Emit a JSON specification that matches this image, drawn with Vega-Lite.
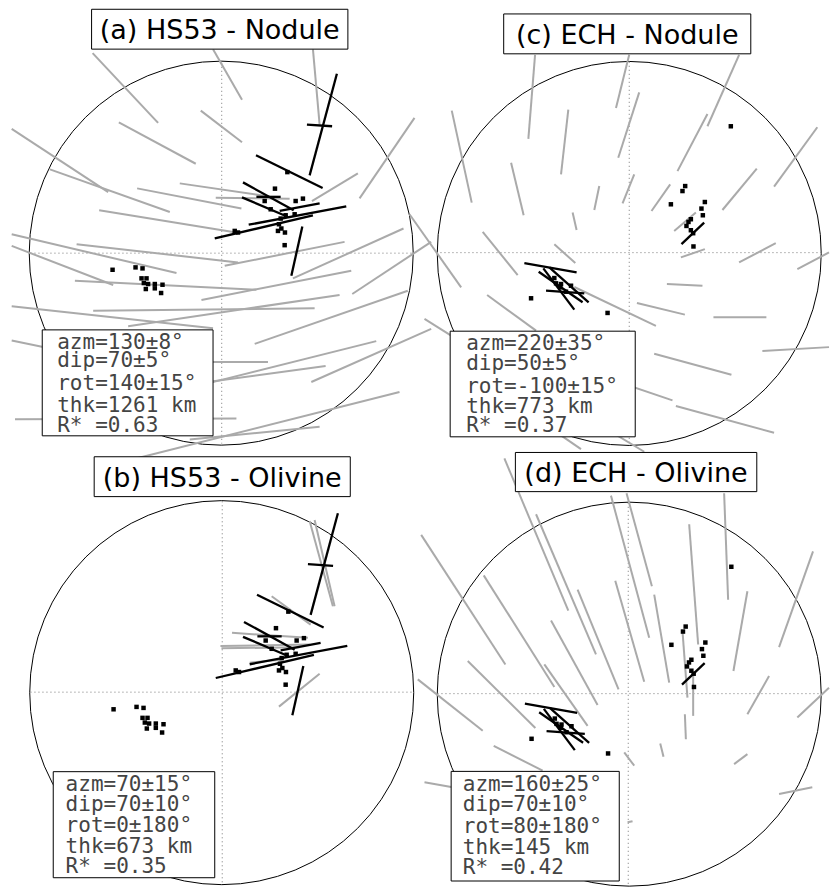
{
"$schema": "https://vega.github.io/schema/vega-lite/v6.json",
"width": 830, "height": 888,
"autosize": {"type": "fit", "contains": "padding"},
"padding": 0,
"background": "white",
"config": {"view": {"stroke": null}},
"datasets": {
"circ": [{"x":221.5,"y":254},{"x":630,"y":254.3},{"x":222,"y":695},{"x":630,"y":696.5}],
"cross": [
{"x":222,"y":63,"x2":222,"y2":445},{"x":30.5,"y":254,"x2":412.5,"y2":254},
{"x":630,"y":62,"x2":630,"y2":446.5},{"x":437,"y":253.5,"x2":822.5,"y2":253.5},
{"x":222.5,"y":503,"x2":222.5,"y2":887},{"x":30.5,"y":694.5,"x2":413.5,"y2":694.5},
{"x":629,"y":504.5,"x2":629,"y2":888},{"x":438,"y":696,"x2":822,"y2":696}],
"gray": [
{"x":92.7,"y":53.3,"x2":158.3,"y2":123.3},{"x":213.3,"y":49.3,"x2":242.3,"y2":100},{"x":313.3,"y":49.3,"x2":320,"y2":125},
{"x":201,"y":111,"x2":242.3,"y2":142.7},{"x":119,"y":122.7,"x2":196,"y2":164.3},{"x":11.7,"y":129.3,"x2":108.3,"y2":192.7},
{"x":50,"y":170,"x2":170,"y2":212.7},{"x":137.3,"y":189,"x2":241.7,"y2":209.3},{"x":180,"y":184,"x2":266.7,"y2":196.7},
{"x":99.3,"y":211,"x2":233.3,"y2":232.7},{"x":216,"y":198.3,"x2":290,"y2":199.3},{"x":312.3,"y":201.7,"x2":358.3,"y2":174},
{"x":360,"y":199,"x2":415,"y2":118.3},{"x":11.7,"y":235,"x2":176.7,"y2":274},{"x":11.7,"y":246.7,"x2":113.3,"y2":286},
{"x":76.7,"y":245,"x2":238.3,"y2":263.3},{"x":225,"y":266.7,"x2":345,"y2":242.7},{"x":293.3,"y":279.3,"x2":404,"y2":229.3},
{"x":75,"y":281.7,"x2":256.7,"y2":290.7},{"x":201.7,"y":301,"x2":351.7,"y2":271.7},{"x":352.7,"y":295,"x2":431.7,"y2":242.7},
{"x":11.7,"y":307.3,"x2":213.3,"y2":329.3},{"x":93.3,"y":311.7,"x2":315,"y2":309.3},{"x":128.3,"y":327.3,"x2":340,"y2":296},
{"x":255,"y":345,"x2":408.3,"y2":291.7},{"x":11.7,"y":341.7,"x2":100,"y2":360},{"x":150,"y":363.3,"x2":268.3,"y2":363.3},
{"x":180,"y":391.7,"x2":376.7,"y2":342.3},{"x":180,"y":387,"x2":326,"y2":367.3},{"x":311.7,"y":383.3,"x2":431.7,"y2":330},
{"x":15,"y":420.7,"x2":236.7,"y2":420},{"x":190,"y":441,"x2":320,"y2":428.3},{"x":123.3,"y":463.3,"x2":400,"y2":393.3},
{"x":310,"y":522.7,"x2":333.3,"y2":608.3},{"x":315,"y":521.7,"x2":335,"y2":608.3},{"x":272,"y":598.3,"x2":311,"y2":626.7},
{"x":232.3,"y":635,"x2":308.3,"y2":640},{"x":220.7,"y":648.3,"x2":310,"y2":646.7},{"x":221.7,"y":650.5,"x2":300,"y2":649.5},
{"x":250,"y":665,"x2":283,"y2":661.7},{"x":279.3,"y":709,"x2":320,"y2":676},
{"x":535.7,"y":55,"x2":529,"y2":139.3},{"x":630,"y":55,"x2":616.7,"y2":108.3},{"x":740,"y":55,"x2":708.3,"y2":126.7},
{"x":452.3,"y":111,"x2":472.3,"y2":203.3},{"x":569,"y":110,"x2":561.7,"y2":175},{"x":640,"y":92.7,"x2":619,"y2":158.3},
{"x":708.3,"y":114.3,"x2":678.3,"y2":171.7},{"x":511.7,"y":163.3,"x2":524.3,"y2":216},{"x":600,"y":186.7,"x2":595,"y2":210.7},
{"x":635,"y":175,"x2":623.3,"y2":204},{"x":671,"y":185,"x2":652.3,"y2":211.7},{"x":757.7,"y":169.3,"x2":723.3,"y2":210.7},
{"x":818.3,"y":127.7,"x2":775,"y2":187.3},{"x":573.3,"y":213.3,"x2":577.3,"y2":230.7},{"x":410,"y":215,"x2":461.7,"y2":288.3},
{"x":483.3,"y":232.7,"x2":518.3,"y2":276},{"x":555,"y":245,"x2":576,"y2":264},{"x":487.7,"y":296,"x2":536.7,"y2":331.7},
{"x":425,"y":320,"x2":451.7,"y2":336.7},{"x":575,"y":288,"x2":656.7,"y2":327},{"x":637.7,"y":304,"x2":685.7,"y2":315.7},
{"x":667.7,"y":285,"x2":703.3,"y2":286.7},{"x":714.3,"y":318.3,"x2":767.3,"y2":318.3},{"x":681.7,"y":258.3,"x2":705.7,"y2":250},
{"x":675,"y":231.7,"x2":696.7,"y2":213.3},{"x":740,"y":263.3,"x2":776.7,"y2":244},{"x":798.3,"y":270,"x2":830,"y2":253.3},
{"x":763.3,"y":352.3,"x2":830,"y2":348.3},{"x":655,"y":355,"x2":732.3,"y2":376},{"x":580,"y":370,"x2":673.3,"y2":401.7},
{"x":676.7,"y":407.3,"x2":775,"y2":434.3},{"x":530,"y":415,"x2":581.7,"y2":450.7},{"x":590,"y":420,"x2":645,"y2":453.3},
{"x":505,"y":460,"x2":569,"y2":612.7},{"x":536.7,"y":516,"x2":596.7,"y2":656.7},{"x":611.7,"y":497.3,"x2":650,"y2":640},
{"x":627.3,"y":495,"x2":652.7,"y2":588.3},{"x":725,"y":495,"x2":729,"y2":601.7},{"x":690,"y":526,"x2":699,"y2":646.7},
{"x":421.7,"y":536.7,"x2":506,"y2":666.7},{"x":484.3,"y":577.3,"x2":555,"y2":689.3},{"x":578.3,"y":591.7,"x2":619.3,"y2":691.7},
{"x":551.7,"y":622.7,"x2":598.3,"y2":707.3},{"x":545,"y":666.7,"x2":588.3,"y2":728.3},{"x":468.3,"y":663.3,"x2":536,"y2":730.5},
{"x":418.3,"y":681.7,"x2":483.3,"y2":733.3},{"x":494.3,"y":748.3,"x2":543.3,"y2":773.3},{"x":425,"y":785,"x2":470,"y2":793},
{"x":616,"y":582.7,"x2":645,"y2":684},{"x":655,"y":596.7,"x2":670,"y2":685},{"x":748.3,"y":593.3,"x2":734.3,"y2":673.3},
{"x":814,"y":553.3,"x2":780,"y2":649.3},{"x":683.3,"y":633.3,"x2":688.3,"y2":700},{"x":694,"y":678.3,"x2":694,"y2":718.3},
{"x":685.7,"y":716.7,"x2":686.7,"y2":741.7},{"x":661,"y":746,"x2":664.3,"y2":759.3},{"x":625,"y":755,"x2":635,"y2":768.3},
{"x":748.3,"y":756.7,"x2":735,"y2":766.7},{"x":770,"y":678.3,"x2":748.3,"y2":716.7},{"x":830,"y":690,"x2":798.3,"y2":720},
{"x":813.3,"y":790,"x2":780,"y2":796.7},{"x":628.3,"y":825,"x2":633.3,"y2":824}],
"black": [
{"x":337.3,"y":74,"x2":310,"y2":176},{"x":307.3,"y":125,"x2":332.5,"y2":126.7},{"x":256.3,"y":155.8,"x2":323,"y2":188.7},
{"x":243.3,"y":183,"x2":294,"y2":211},{"x":242.3,"y":198,"x2":288,"y2":217.5},{"x":256.7,"y":197.5,"x2":281,"y2":197.5},
{"x":280,"y":211.5,"x2":320,"y2":204},{"x":249,"y":225.5,"x2":346.7,"y2":207},{"x":215,"y":239.3,"x2":313.3,"y2":216},
{"x":302.7,"y":227.3,"x2":291.7,"y2":276.7},
{"x":338.3,"y":515,"x2":311,"y2":617},{"x":308.3,"y":566,"x2":333.5,"y2":567.7},{"x":257.3,"y":596.8,"x2":324,"y2":629.7},
{"x":244.3,"y":624,"x2":295,"y2":652},{"x":243.3,"y":639,"x2":289,"y2":658.5},{"x":257.7,"y":638.5,"x2":282,"y2":638.5},
{"x":281,"y":652.5,"x2":321,"y2":645},{"x":250,"y":666.5,"x2":347.7,"y2":648},{"x":216,"y":680.3,"x2":314.3,"y2":657},
{"x":303.7,"y":668.3,"x2":292.7,"y2":717.7},
{"x":682.3,"y":245,"x2":705,"y2":223.3},{"x":525,"y":264,"x2":577.3,"y2":273.3},{"x":550,"y":268.3,"x2":589.3,"y2":303.3},
{"x":539.3,"y":272.7,"x2":583.3,"y2":303.3},{"x":544,"y":269.3,"x2":575,"y2":310.7},{"x":546.7,"y":291.7,"x2":585,"y2":294.3},
{"x":682.8,"y":687,"x2":705.5,"y2":665.3},{"x":525.5,"y":706,"x2":577.8,"y2":715.3},{"x":550.5,"y":710.3,"x2":589.8,"y2":745.3},
{"x":539.8,"y":714.7,"x2":583.8,"y2":745.3},{"x":544.5,"y":711.3,"x2":575.5,"y2":752.7},{"x":547.2,"y":733.7,"x2":585.5,"y2":736.3}],
"pts": [
{"x":275.3,"y":189.3},{"x":287.7,"y":172.7},{"x":265,"y":201.7},{"x":296,"y":201.7},{"x":303.3,"y":199.3},{"x":271,"y":210},
{"x":286,"y":216},{"x":295,"y":215},{"x":281,"y":219.3},{"x":279.3,"y":225},{"x":281.7,"y":229.3},{"x":278.3,"y":231.7},
{"x":285.3,"y":233.3},{"x":285,"y":246},{"x":235,"y":231.7},{"x":238.3,"y":233.3},
{"x":112.7,"y":270.7},{"x":135.7,"y":268.3},{"x":142.7,"y":269.3},{"x":141.7,"y":279.3},{"x":146.7,"y":279.3},{"x":144,"y":284},
{"x":148.3,"y":285},{"x":155,"y":285},{"x":162.7,"y":285.7},{"x":146,"y":290},{"x":155,"y":289.3},{"x":161.3,"y":294},
{"x":276.3,"y":630.3},{"x":288.7,"y":613.7},{"x":266,"y":642.7},{"x":297,"y":642.7},{"x":304.3,"y":640.3},{"x":272,"y":651},
{"x":287,"y":657},{"x":296,"y":656},{"x":282,"y":660.3},{"x":280.3,"y":666},{"x":282.7,"y":670.3},{"x":279.3,"y":672.7},
{"x":286.3,"y":674.3},{"x":286,"y":687},{"x":236,"y":672.7},{"x":239.3,"y":674.3},
{"x":113.7,"y":711.7},{"x":136.7,"y":709.3},{"x":143.7,"y":710.3},{"x":142.7,"y":720.3},{"x":147.7,"y":720.3},{"x":145,"y":725},
{"x":149.3,"y":726},{"x":156,"y":726},{"x":163.7,"y":726.7},{"x":147,"y":731},{"x":156,"y":730.3},{"x":162.3,"y":735},
{"x":731.7,"y":126.7},{"x":686,"y":186.7},{"x":683.3,"y":191.7},{"x":671.7,"y":205},{"x":705.7,"y":202.7},{"x":702.3,"y":209.3},
{"x":703.7,"y":216},{"x":691.7,"y":220},{"x":689.3,"y":222.7},{"x":687.3,"y":226.7},{"x":691.7,"y":231},{"x":694,"y":234},
{"x":694.3,"y":247.3},{"x":608.3,"y":314},{"x":531.7,"y":299.3},{"x":555,"y":279},{"x":556.7,"y":284.3},{"x":561.7,"y":285},
{"x":561,"y":288.3},{"x":571.7,"y":286.7},{"x":566.7,"y":292.7},
{"x":732.2,"y":568.7},{"x":686.5,"y":628.7},{"x":683.8,"y":633.7},{"x":672.2,"y":647},{"x":706.2,"y":644.7},{"x":702.8,"y":651.3},
{"x":704.2,"y":658},{"x":692.2,"y":662},{"x":689.8,"y":664.7},{"x":687.8,"y":668.7},{"x":692.2,"y":673},{"x":694.5,"y":676},
{"x":694.8,"y":689.3},{"x":608.8,"y":756},{"x":532.2,"y":741.3},{"x":555.5,"y":721},{"x":557.2,"y":726.3},{"x":562.2,"y":727},
{"x":561.5,"y":730.3},{"x":572.2,"y":728.7},{"x":567.2,"y":734.7}],
"boxes": [
{"x":42.3,"y":331,"x2":213.3,"y2":437.3},{"x":450.7,"y":332.3,"x2":636,"y2":438.3},
{"x":53.3,"y":774.3,"x2":215,"y2":880.7},{"x":451.7,"y":774,"x2":620,"y2":884},
{"x":91.7,"y":9.3,"x2":348.3,"y2":49.3},{"x":504.3,"y":14,"x2":751.7,"y2":54},
{"x":94.3,"y":458.3,"x2":350.7,"y2":498.3},{"x":516,"y":454,"x2":757.7,"y2":493.3}],
"titles": [
{"x":220,"y":39.5,"t":"(a) HS53 - Nodule"},{"x":628,"y":44.5,"t":"(c) ECH - Nodule"},
{"x":222.5,"y":488.5,"t":"(b) HS53 - Olivine"},{"x":636.8,"y":483.5,"t":"(d) ECH - Olivine"}],
"labels": [
{"x":57.3,"y":350,"t":"azm=130±8°"},{"x":57.3,"y":368,"t":"dip=70±5°"},{"x":57.3,"y":391,"t":"rot=140±15°"},{"x":57.3,"y":413,"t":"thk=1261 km"},{"x":57.3,"y":433.3,"t":"R* =0.63"},
{"x":466.7,"y":351.5,"t":"azm=220±35°"},{"x":466.7,"y":371.5,"t":"dip=50±5°"},{"x":466.7,"y":394,"t":"rot=-100±15°"},{"x":466.7,"y":414,"t":"thk=773 km"},{"x":466.7,"y":433.5,"t":"R* =0.37"},
{"x":65.7,"y":793.5,"t":"azm=70±15°"},{"x":65.7,"y":814,"t":"dip=70±10°"},{"x":65.7,"y":835,"t":"rot=0±180°"},{"x":65.7,"y":856,"t":"thk=673 km"},{"x":65.7,"y":876,"t":"R* =0.35"},
{"x":463.3,"y":793.5,"t":"azm=160±25°"},{"x":463.3,"y":814,"t":"dip=70±10°"},{"x":463.3,"y":835.7,"t":"rot=80±180°"},{"x":463.3,"y":856.7,"t":"thk=145 km"},{"x":463.3,"y":877.3,"t":"R* =0.42"}]
},
"layer": [
{"data": {"name": "circ"}, "mark": {"type": "point", "shape": "circle", "filled": false, "stroke": "black", "strokeWidth": 1, "size": 147456, "opacity": 1},
 "encoding": {"x": {"field": "x", "type": "quantitative", "scale": {"domain": [0, 830], "nice": false, "zero": false}, "axis": null},
  "y": {"field": "y", "type": "quantitative", "scale": {"domain": [0, 888], "reverse": true, "nice": false, "zero": false}, "axis": null}}},
{"data": {"name": "cross"}, "mark": {"type": "rule", "stroke": "#777777", "strokeWidth": 1, "strokeDash": [1, 3]},
 "encoding": {"x": {"field": "x", "type": "quantitative"}, "y": {"field": "y", "type": "quantitative"}, "x2": {"field": "x2"}, "y2": {"field": "y2"}}},
{"data": {"name": "gray"}, "mark": {"type": "rule", "stroke": "#aaaaaa", "strokeWidth": 2},
 "encoding": {"x": {"field": "x", "type": "quantitative"}, "y": {"field": "y", "type": "quantitative"}, "x2": {"field": "x2"}, "y2": {"field": "y2"}}},
{"data": {"name": "black"}, "mark": {"type": "rule", "stroke": "black", "strokeWidth": 2.3},
 "encoding": {"x": {"field": "x", "type": "quantitative"}, "y": {"field": "y", "type": "quantitative"}, "x2": {"field": "x2"}, "y2": {"field": "y2"}}},
{"data": {"name": "pts"}, "mark": {"type": "point", "shape": "square", "filled": true, "color": "black", "size": 20, "opacity": 1},
 "encoding": {"x": {"field": "x", "type": "quantitative"}, "y": {"field": "y", "type": "quantitative"}}},
{"data": {"name": "boxes"}, "mark": {"type": "rect", "fill": "white", "stroke": "black", "strokeWidth": 1},
 "encoding": {"x": {"field": "x", "type": "quantitative"}, "y": {"field": "y", "type": "quantitative"}, "x2": {"field": "x2"}, "y2": {"field": "y2"}}},
{"data": {"name": "titles"}, "mark": {"type": "text", "font": "DejaVu Sans", "fontSize": 27, "align": "center", "baseline": "alphabetic", "color": "black"},
 "encoding": {"x": {"field": "x", "type": "quantitative"}, "y": {"field": "y", "type": "quantitative"}, "text": {"field": "t"}}},
{"data": {"name": "labels"}, "mark": {"type": "text", "font": "DejaVu Sans Mono", "fontSize": 21, "align": "left", "baseline": "alphabetic", "color": "#444444"},
 "encoding": {"x": {"field": "x", "type": "quantitative"}, "y": {"field": "y", "type": "quantitative"}, "text": {"field": "t"}}}
]
}
